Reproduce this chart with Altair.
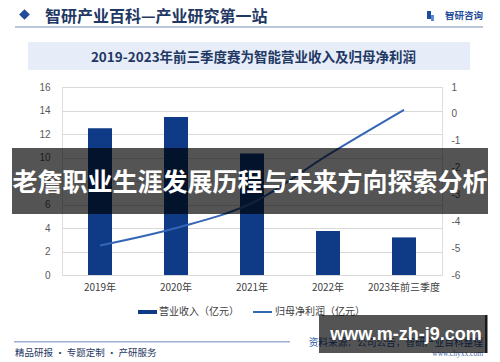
import altair as alt
import pandas as pd

categories = ["2019年", "2020年", "2021年", "2022年", "2023年前三季度"]
revenue = [12.5, 13.45, 10.35, 3.75, 3.2]
net_profit = [-4.9, -4.25, -3.32, -1.53, 0.15]

left_ticks = [0, 2, 4, 6, 8, 10, 12, 14, 16]
right_ticks = [-6, -5, -4, -3, -2, -1, 0, 1]

df = pd.DataFrame({"year": categories, "revenue": revenue, "profit": net_profit})

FONT = "Noto Sans CJK SC"
NUMFONT = "Liberation Sans"
BAR = "#0e3a86"
LINE = "#3565b5"
NAVY = "#1f3864"

one = pd.DataFrame({"k": [0]})


def txt(text, x, y, size, color, weight="normal", align="left", font=FONT, opacity=1.0):
    return alt.Chart(one).mark_text(
        text=text, fontSize=size, color=color, fontWeight=weight, align=align,
        baseline="middle", font=font, opacity=opacity
    ).encode(x=alt.value(x), y=alt.value(y))


def rect(x, y, x2, y2, color, opacity=1.0):
    return alt.Chart(one).mark_rect(color=color, opacity=opacity).encode(
        x=alt.value(x), x2=alt.value(x2), y=alt.value(y), y2=alt.value(y2)
    )


def rule(x, y, x2, y2, color, width=1.0):
    return alt.Chart(one).mark_rule(color=color, strokeWidth=width).encode(
        x=alt.value(x), x2=alt.value(x2), y=alt.value(y), y2=alt.value(y2)
    )


xenc = alt.X(
    "year:N", sort=categories,
    scale=alt.Scale(paddingInner=0, paddingOuter=0),
    axis=alt.Axis(title=None, labelAngle=0, domain=False, ticks=False, labelPadding=7,
                  labelFontSize=10, labelColor="#404040", labelFont=FONT),
)

bars = alt.Chart(df).mark_bar(size=24, color=BAR).encode(
    x=xenc,
    y=alt.Y("revenue:Q", scale=alt.Scale(domain=[0, 16]),
            axis=alt.Axis(title=None, values=left_ticks, grid=True, gridColor="#d9d9d9",
                          domain=False, ticks=False, labelPadding=12, labelColor="#595959",
                          labelFontSize=10, labelFont=NUMFONT)),
)

line = alt.Chart(df).mark_line(color=LINE, strokeWidth=2, interpolate="monotone").encode(
    x=xenc,
    y=alt.Y("profit:Q", scale=alt.Scale(domain=[-6, 1]),
            axis=alt.Axis(orient="right", title=None, values=right_ticks, grid=False,
                          domain=False, ticks=False, labelPadding=9, labelColor="#595959",
                          labelFontSize=10, labelFont=NUMFONT, labelExpr="'' + datum.value")),
)

background = [
    # header
    alt.Chart(one).mark_point(shape="diamond", filled=True, size=115, color="#1f4c9b", opacity=1)
    .encode(x=alt.value(-37.5), y=alt.value(-72.5)),
    txt("智研产业百科—产业研究第一站", -17, -70, 16, NAVY, weight="bold"),
    rect(365, -76, 369, -68, "#1f4c9b"),
    rect(369, -72, 372, -66, "#5b8ad0"),
    txt("智研咨询", 383, -71, 9.5, "#1f4c9b", weight="bold"),
    rule(-47, -60, 421, -60, "#a9b5cc", 1.5),
    # title band
    rect(-34, -45, 408, -17, "#e7edf8"),
    txt("2019-2023年前三季度赛为智能营业收入及归母净利润", 191.5, -28.7, 13.5, NAVY,
        weight="bold", align="center"),
    # legend
    rect(76, 223, 95, 227, BAR),
    txt("营业收入（亿元）", 97, 225, 10, "#404040"),
    rule(191, 225, 210, 225, LINE, 2),
    txt("归母净利润（亿元）", 213, 225, 10, "#404040"),
    # footer
    rule(-48, 254.7, 228, 254.7, "#9fb0d0", 1.5),
    txt("精品研报 · 专题定制 · 产研服务", -47, 266.3, 9.5, NAVY),
    txt("资料来源：公司公告，智研产业百科整理", 421, 255.7, 9.7, "#2a56a8", align="right"),
    txt("www.chyxx.com", 421, 267, 7.5, "#4a6aa8", align="right", font="Liberation Serif"),
]

overlay = [
    rect(-50, 61, 426, 127, "#000000", 0.67),
    txt("老詹职业生涯发展历程与未来方向探索分析", 188, 96, 25, "#ffffff", weight="bold",
        align="center"),
    rect(257, 228, 423, 266, "#000000", 0.67),
    rect(423, 228, 425.5, 266, "#000000", 0.9),
    txt("www.m-zh-j9.com", 344, 248, 18, "#ffffff", weight="bold", align="center",
        font=NUMFONT),
]

chart = alt.layer(*background, bars, line, *overlay).resolve_scale(y="independent").properties(
    width=380, height=188,
    autosize=alt.AutoSizeParams(type="none"),
    padding={"left": 54, "top": 79, "right": 50, "bottom": 87},
).configure_view(stroke=None).configure(background="#ffffff")

chart.save("out.html", embed_options={"renderer": "svg", "actions": False})
